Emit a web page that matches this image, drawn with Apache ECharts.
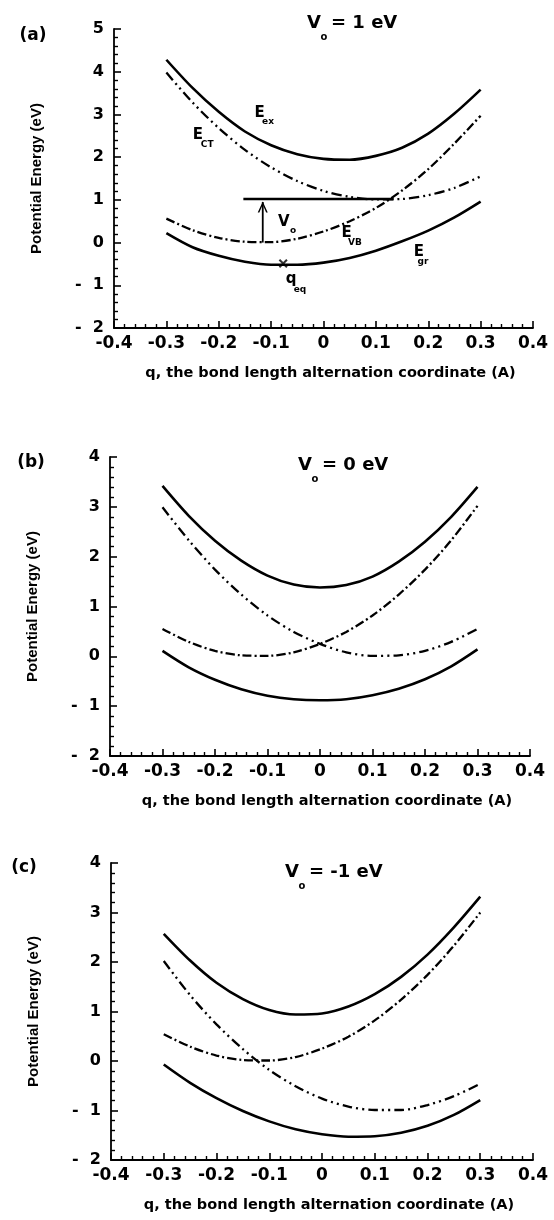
<!DOCTYPE html>
<html>
<head>
<meta charset="utf-8">
<title>Potential energy vs bond length alternation</title>
<script src="https://cdn.jsdelivr.net/npm/echarts@6/dist/echarts.min.js"></script>
<style>
  html, body { margin: 0; padding: 0; background: #fff; }
  #chart { width: 554px; height: 1220px; }
</style>
</head>
<body>
<div id="chart"></div>
<script>
// bond length alternation coordinate q (A), shared by every curve
const qValues = [-0.3, -0.25, -0.2, -0.15, -0.1, -0.05, 0, 0.05, 0.1, 0.15, 0.2, 0.25, 0.3]

// (a) V0 = 1 eV
const exA = [4.28, 3.62, 3.06, 2.60, 2.28, 2.07, 1.96, 1.94, 2.03, 2.22, 2.55, 3.02, 3.58]
const grA = [0.22, -0.11, -0.31, -0.45, -0.52, -0.52, -0.47, -0.36, -0.19, 0.03, 0.28, 0.59, 0.96]
const vbA = [0.56, 0.29, 0.11, 0.02, 0.01, 0.09, 0.26, 0.50, 0.81, 1.22, 1.72, 2.32, 2.97]
const ctA = [3.98, 3.28, 2.68, 2.17, 1.76, 1.44, 1.21, 1.07, 1.01, 1.02, 1.11, 1.28, 1.55]

// (b) V0 = 0 eV
const exB = [3.42, 2.82, 2.32, 1.92, 1.62, 1.44, 1.38, 1.43, 1.60, 1.90, 2.30, 2.80, 3.40]
const grB = [0.11, -0.22, -0.47, -0.66, -0.79, -0.86, -0.88, -0.86, -0.78, -0.65, -0.46, -0.20, 0.14]
const vbB = [0.55, 0.29, 0.11, 0.02, 0.01, 0.08, 0.25, 0.49, 0.82, 1.24, 1.74, 2.33, 3.02]
const ctB = [2.99, 2.33, 1.74, 1.24, 0.82, 0.49, 0.25, 0.08, 0.01, 0.02, 0.11, 0.29, 0.55]

// (c) V0 = -1 eV
const exC = [2.57, 2.03, 1.58, 1.25, 1.03, 0.94, 0.96, 1.10, 1.35, 1.70, 2.15, 2.70, 3.32]
const grC = [-0.07, -0.44, -0.75, -1.01, -1.22, -1.38, -1.48, -1.53, -1.52, -1.45, -1.31, -1.09, -0.79]
const vbC = [0.54, 0.29, 0.11, 0.02, 0.01, 0.08, 0.25, 0.49, 0.82, 1.24, 1.74, 2.33, 3.00]
const ctC = [2.02, 1.33, 0.74, 0.24, -0.18, -0.51, -0.76, -0.92, -0.99, -0.99, -0.89, -0.71, -0.46]

// extra marks in panel (a)
const levelQ = [-0.153, 0.134]
const levelE = [1.02, 1.02]
const arrowQ = [-0.116, -0.116]
const arrowE = [0.0, 0.95]
const qeqQ = [-0.077]
const qeqE = [-0.49]

// curve labels in panel (a): text, q, energy
const labelsBig = [
  ['E', -0.122, 3.02],
  ['E', -0.240, 2.52],
  ['V', -0.076, 0.48],
  ['E', 0.044, 0.23],
  ['q', -0.062, -0.86],
  ['E', 0.182, -0.23]
]
const labelsSub = [
  ['ex', -0.106, 2.82],
  ['CT', -0.222, 2.30],
  ['o', -0.058, 0.27],
  ['VB', 0.060, 0.00],
  ['eq', -0.045, -1.10],
  ['gr', 0.190, -0.44]
]

// axis ranges and titles
const xMin = -0.4
const xMax = 0.4
const yMaxs = [5, 4, 4]
const yMin = -2
const panelTags = ['(a)', '(b)', '(c)']
const panelV0 = ['= 1 eV', '= 0 eV', '= -1 eV']
const xTitle = 'q, the bond length alternation coordinate (A)'
const yTitle = 'Potential Energy (eV)'

const grids = [
  { left: 114, top: 29, width: 419, height: 299 },
  { left: 110, top: 457, width: 420, height: 299 },
  { left: 111, top: 863, width: 422, height: 297 }
]

const tickFont = '"DejaVu Sans", sans-serif'
const black = '#000'

function xAxisFor(i) {
  return {
    gridIndex: i,
    type: 'value',
    min: xMin,
    max: xMax,
    interval: 0.1,
    name: xTitle,
    nameLocation: 'middle',
    nameGap: 38,
    nameTextStyle: {
      fontFamily: tickFont, fontWeight: 'bold', fontSize: 14.5, color: black,
      padding: [0, 0, 0, 14]
    },
    axisLine: { show: true, onZero: false, lineStyle: { color: black, width: 1.8 } },
    axisTick: { show: true, inside: true, length: 7, lineStyle: { color: black, width: 1.6 } },
    minorTick: { show: true, splitNumber: 5, length: 4, lineStyle: { color: black, width: 1.4 } },
    splitLine: { show: false },
    axisLabel: {
      margin: 7,
      color: black,
      fontFamily: tickFont,
      fontWeight: 'bold',
      fontSize: 17,
      formatter: v => (Math.abs(v) < 1e-9 ? '0' : v.toFixed(1))
    }
  }
}

function yAxisFor(i) {
  return {
    gridIndex: i,
    type: 'value',
    min: yMin,
    max: yMaxs[i],
    interval: 1,
    name: yTitle,
    nameLocation: 'middle',
    nameGap: 70,
    nameTextStyle: { fontFamily: '"Liberation Sans", Arial, sans-serif', fontWeight: 'bold', fontSize: 15, color: black },
    axisLine: { show: true, onZero: false, lineStyle: { color: black, width: 1.8 } },
    axisTick: { show: true, inside: true, length: 7, lineStyle: { color: black, width: 1.6 } },
    minorTick: { show: true, splitNumber: 5, length: 4, lineStyle: { color: black, width: 1.4 } },
    splitLine: { show: false },
    axisLabel: {
      margin: 10,
      color: black,
      fontFamily: tickFont,
      fontWeight: 'bold',
      fontSize: 16,
      formatter: v => (v < 0 ? '-  ' + Math.abs(v) : String(v))
    }
  }
}

function curve(i, values, dash, width) {
  return {
    type: 'line',
    xAxisIndex: i,
    yAxisIndex: i,
    data: qValues.map((q, k) => [q, values[k]]),
    smooth: 0.3,
    showSymbol: false,
    silent: true,
    lineStyle: { color: black, width: width, type: dash, cap: 'butt' }
  }
}

const solid = 'solid'
const dashVB = [9, 3, 2, 3]
const dashCT = [10, 4, 2, 4, 2, 4]

const series = []
const panelData = [
  [exA, grA, vbA, ctA],
  [exB, grB, vbB, ctB],
  [exC, grC, vbC, ctC]
]
panelData.forEach((p, i) => {
  series.push(curve(i, p[0], solid, 2.6))
  series.push(curve(i, p[1], solid, 2.6))
  series.push(curve(i, p[2], dashVB, 2.3))
  series.push(curve(i, p[3], dashCT, 2.3))
})

// V0 level line
series.push({
  type: 'line',
  xAxisIndex: 0,
  yAxisIndex: 0,
  data: levelQ.map((q, k) => [q, levelE[k]]),
  showSymbol: false,
  silent: true,
  lineStyle: { color: black, width: 2.6 }
})

// arrow from the VB minimum up to the level
series.push({
  type: 'line',
  xAxisIndex: 0,
  yAxisIndex: 0,
  data: [
    { value: [arrowQ[0], arrowE[0]], symbol: 'none' },
    {
      value: [arrowQ[1], arrowE[1]],
      symbol: 'path://M5,0 L10,10 L8.4,10 L5,3 L1.6,10 L0,10 Z',
      symbolSize: [10, 11],
      symbolOffset: [0, 5]
    }
  ],
  showSymbol: true,
  silent: true,
  itemStyle: { color: black },
  lineStyle: { color: black, width: 1.8 }
})

// q_eq cross
series.push({
  type: 'scatter',
  xAxisIndex: 0,
  yAxisIndex: 0,
  data: qeqQ.map((q, k) => [q, qeqE[k]]),
  symbol: 'path://M0,1.6 L1.6,0 L5,3.4 L8.4,0 L10,1.6 L6.6,5 L10,8.4 L8.4,10 L5,6.6 L1.6,10 L0,8.4 L3.4,5 Z',
  symbolSize: 9,
  silent: true,
  itemStyle: { color: black }
})

// panel tags and V0 titles (placed in pixels)
const tagPos = [[33, 36], [31, 463], [24, 868]]
const vPos = [[314, 23], [305, 465], [292, 872]]
const graphic = []
panelTags.forEach((t, i) => {
  graphic.push({
    type: 'text', x: tagPos[i][0], y: tagPos[i][1], silent: true,
    style: { text: t, fill: black, font: 'bold 17px "DejaVu Sans"', align: 'center', verticalAlign: 'middle' }
  })
  graphic.push({
    type: 'text', x: vPos[i][0], y: vPos[i][1], silent: true,
    style: { text: 'V', fill: black, font: 'bold 18px "DejaVu Sans"', align: 'center', verticalAlign: 'middle' }
  })
  graphic.push({
    type: 'text', x: vPos[i][0] + 10, y: vPos[i][1] + 14, silent: true,
    style: { text: 'o', fill: black, font: 'bold 10px "DejaVu Sans"', align: 'center', verticalAlign: 'middle' }
  })
  graphic.push({
    type: 'text', x: vPos[i][0] + 17, y: vPos[i][1], silent: true,
    style: { text: panelV0[i], fill: black, font: 'bold 18px "DejaVu Sans"', align: 'left', verticalAlign: 'middle' }
  })
})

const option = {
  backgroundColor: '#fff',
  animation: false,
  grid: grids.map(g => Object.assign({ containLabel: false, outerBoundsMode: 'none' }, g)),
  xAxis: [0, 1, 2].map(xAxisFor),
  yAxis: [0, 1, 2].map(yAxisFor),
  series: series,
  graphic: graphic
}

const myChart = echarts.init(document.getElementById('chart'))
myChart.setOption(option)

// curve labels in panel (a), placed through the axes of grid 0
function addLabels(list, size) {
  list.forEach(l => {
    const pt = myChart.convertToPixel({ gridIndex: 0 }, [l[1], l[2]])
    graphic.push({
      type: 'text', x: pt[0], y: pt[1], silent: true,
      style: { text: l[0], fill: black, font: 'bold ' + size + 'px "DejaVu Sans"', align: 'center', verticalAlign: 'middle' }
    })
  })
}
addLabels(labelsBig, 15)
addLabels(labelsSub, 9)
myChart.setOption({ graphic: graphic })
</script>
</body>
</html>
